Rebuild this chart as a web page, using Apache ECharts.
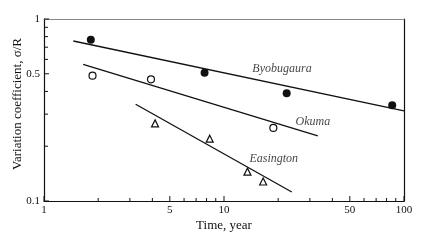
<!DOCTYPE html>
<html>
<head>
<meta charset="utf-8">
<script src="https://cdn.jsdelivr.net/npm/echarts@6/dist/echarts.min.js"></script>
<style>
  html, body { margin: 0; padding: 0; background: #fff; }
  #chart { width: 425px; height: 242px; }
</style>
</head>
<body>
<div id="chart"></div>
<script>
// measured points (time in years, variation coefficient)
const byoTime = [1.82, 7.8, 22.3, 86]
const byoCoef = [0.77, 0.507, 0.391, 0.336]
const okuTime = [1.86, 3.93, 18.8]
const okuCoef = [0.488, 0.466, 0.252]
const easTime = [4.14, 8.33, 13.5, 16.5]
const easCoef = [0.267, 0.22, 0.145, 0.128]

// fitted lines (end points)
const byoFitTime = [1.455, 100]
const byoFitCoef = [0.757, 0.313]
const okuFitTime = [1.65, 33.2]
const okuFitCoef = [0.564, 0.228]
const easFitTime = [3.23, 23.8]
const easFitCoef = [0.34, 0.112]

// tick labels
const xMajor = [1, 5, 10, 50, 100]
const xMinor = [2, 3, 4, 6, 7, 8, 9, 20, 30, 40, 60, 70, 80, 90]
const yMajor = [0.1, 0.5, 1]
const yMinor = [0.2, 0.3, 0.4, 0.6, 0.7, 0.8, 0.9]

const lg = Math.log10
const pts = (xs, ys) => xs.map((x, i) => [lg(x), lg(ys[i])])

const ink = '#111'
const serif = 'Liberation Serif'

// where the italic names sit (time, coef)
const nameSpots = [
    { name: 'Byobugaura', at: [21.0, 0.531] },
    { name: 'Okuma', at: [31.2, 0.272] },
    { name: 'Easington', at: [18.9, 0.170] }
]

const chart = echarts.init(document.getElementById('chart'))

const fmt = v => String(parseFloat(Math.pow(10, v).toPrecision(3)))

// inward log ticks, placed through the axes' own scale (axisTick customValues
// would not show up in v6 here)
const xTicks = (vals, len) => ({
    type: 'custom', silent: true, clip: false, z: 5,
    data: vals.map(v => [lg(v), -1]),
    renderItem: (params, api) => {
        const p = api.coord([api.value(0), api.value(1)])
        return {
            type: 'line',
            shape: { x1: p[0], y1: p[1], x2: p[0], y2: p[1] - len },
            style: { stroke: ink, lineWidth: 1 }
        }
    }
})
const yTicks = (vals, len) => ({
    type: 'custom', silent: true, clip: false, z: 5,
    data: vals.map(v => [0, lg(v)]),
    renderItem: (params, api) => {
        const p = api.coord([api.value(0), api.value(1)])
        return {
            type: 'line',
            shape: { x1: p[0], y1: p[1], x2: p[0] + len, y2: p[1] },
            style: { stroke: ink, lineWidth: 1 }
        }
    }
})

const option = {
    animation: false,
    grid: { left: 44, right: 21, top: 19, bottom: 41, outerBoundsMode: 'none' },
    xAxis: [
        {
            type: 'value', min: 0, max: 2, position: 'bottom',
            splitLine: { show: false },
            axisLine: { show: true, onZero: false, lineStyle: { color: ink, width: 1.2 } },
            axisTick: { show: false },
            axisLabel: {
                customValues: xMajor.map(lg), formatter: fmt,
                color: ink, fontFamily: serif, fontSize: 11, margin: 4
            },
            name: 'Time, year', nameLocation: 'middle', nameGap: 18, nameMoveOverlap: false,
            nameTextStyle: { color: ink, fontFamily: serif, fontSize: 13 }
        },
        {
            type: 'value', min: 0, max: 2, position: 'top',
            splitLine: { show: false },
            axisLine: { show: true, onZero: false, lineStyle: { color: '#888', width: 1 } },
            axisTick: { show: false },
            axisLabel: { show: false }
        }
    ],
    yAxis: [
        {
            type: 'value', min: -1, max: 0, position: 'left',
            splitLine: { show: false },
            axisLine: { show: true, onZero: false, lineStyle: { color: ink, width: 1.2 } },
            axisTick: { show: false },
            axisLabel: {
                customValues: yMajor.map(lg), formatter: fmt,
                color: ink, fontFamily: serif, fontSize: 11, margin: 4
            },
            name: 'Variation coefficient, σ/R', nameLocation: 'middle', nameGap: 20, nameMoveOverlap: false,
            nameTextStyle: { color: ink, fontFamily: serif, fontSize: 13, padding: [0, 0, 0, 12] }
        },
        {
            type: 'value', min: -1, max: 0, position: 'right',
            splitLine: { show: false },
            axisLine: { show: true, onZero: false, lineStyle: { color: ink, width: 1.2 } },
            axisTick: { show: false },
            axisLabel: { show: false }
        }
    ],
    series: [
        xTicks(xMajor, 5),
        xTicks(xMinor, 3),
        yTicks(yMajor, 5),
        yTicks(yMinor, 4),
        { type: 'line', data: pts(byoFitTime, byoFitCoef), symbol: 'none', lineStyle: { color: ink, width: 1.3 } },
        { type: 'line', data: pts(okuFitTime, okuFitCoef), symbol: 'none', lineStyle: { color: ink, width: 1.3 } },
        { type: 'line', data: pts(easFitTime, easFitCoef), symbol: 'none', lineStyle: { color: ink, width: 1.3 } },
        {
            name: 'Byobugaura', type: 'scatter', data: pts(byoTime, byoCoef),
            symbol: 'circle', symbolSize: 8, itemStyle: { color: ink, opacity: 1 }
        },
        {
            name: 'Okuma', type: 'scatter', data: pts(okuTime, okuCoef),
            symbol: 'circle', symbolSize: 7,
            itemStyle: { color: '#fff', borderColor: ink, borderWidth: 1.2, opacity: 1 }
        },
        {
            name: 'Easington', type: 'scatter', data: pts(easTime, easCoef),
            symbol: 'triangle', symbolSize: 7,
            itemStyle: { color: '#fff', borderColor: ink, borderWidth: 1.2, opacity: 1 }
        },
        {
            type: 'scatter', symbolSize: 0, silent: true,
            data: nameSpots.map(s => ({ name: s.name, value: [lg(s.at[0]), lg(s.at[1])] })),
            label: {
                show: true, position: 'inside', formatter: '{b}',
                color: ink, fontFamily: serif, fontStyle: 'italic', fontSize: 12
            }
        }
    ]
}

chart.setOption(option)
</script>
</body>
</html>
